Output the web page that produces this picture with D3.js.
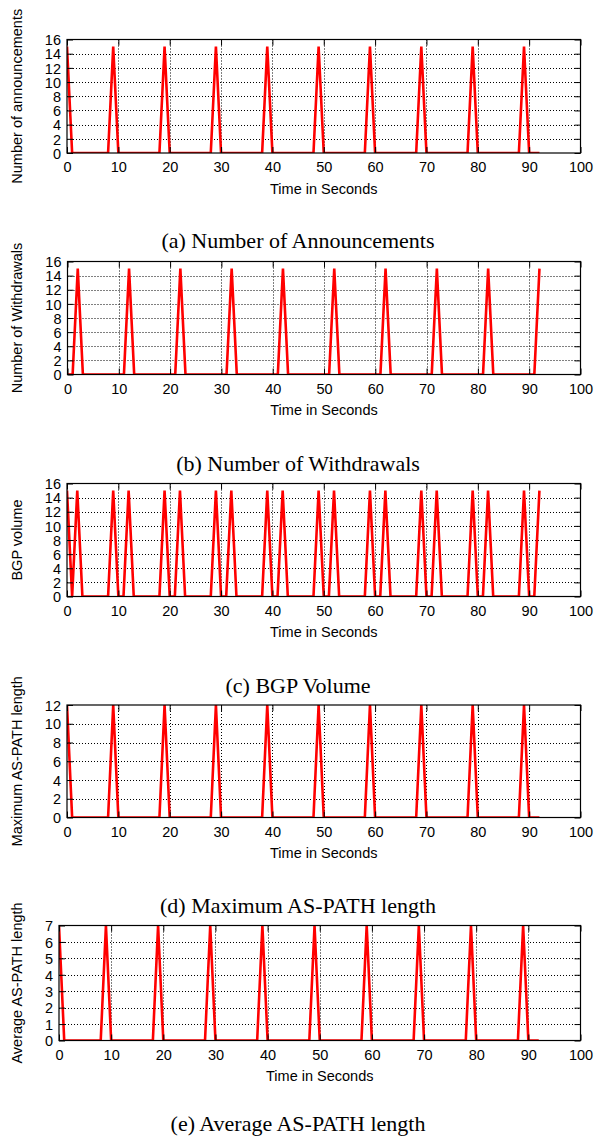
<!DOCTYPE html>
<html><head><meta charset="utf-8">
<script src="https://cdn.jsdelivr.net/npm/d3@7"></script>
<style>body{margin:0;background:#fff} svg{display:block}</style>
</head><body>
<svg id="c" width="595" height="1140"></svg>
<script>
// ---------- data ----------
const time = [0,1,2,3,4,5,6,7,8,9,10,11,12,13,14,15,16,17,18,19,20,21,22,23,24,25,26,27,28,29,30,31,32,33,34,35,36,37,38,39,40,41,42,43,44,45,46,47,48,49,50,51,52,53,54,55,56,57,58,59,60,61,62,63,64,65,66,67,68,69,70,71,72,73,74,75,76,77,78,79,80,81,82,83,84,85,86,87,88,89,90,91,92];

const announcements = [
15,0,0,0,0,0,0,0,0,15,
0,0,0,0,0,0,0,0,0,15,
0,0,0,0,0,0,0,0,0,15,
0,0,0,0,0,0,0,0,0,15,
0,0,0,0,0,0,0,0,0,15,
0,0,0,0,0,0,0,0,0,15,
0,0,0,0,0,0,0,0,0,15,
0,0,0,0,0,0,0,0,0,15,
0,0,0,0,0,0,0,0,0,15,
0,0,0];

const withdrawals = [
0,0,15,0,0,0,0,0,0,0,
0,0,15,0,0,0,0,0,0,0,
0,0,15,0,0,0,0,0,0,0,
0,0,15,0,0,0,0,0,0,0,
0,0,15,0,0,0,0,0,0,0,
0,0,15,0,0,0,0,0,0,0,
0,0,15,0,0,0,0,0,0,0,
0,0,15,0,0,0,0,0,0,0,
0,0,15,0,0,0,0,0,0,0,
0,0,15];

const bgpVolume = [
15,0,15,0,0,0,0,0,0,15,
0,0,15,0,0,0,0,0,0,15,
0,0,15,0,0,0,0,0,0,15,
0,0,15,0,0,0,0,0,0,15,
0,0,15,0,0,0,0,0,0,15,
0,0,15,0,0,0,0,0,0,15,
0,0,15,0,0,0,0,0,0,15,
0,0,15,0,0,0,0,0,0,15,
0,0,15,0,0,0,0,0,0,15,
0,0,15];

const maxPathLength = [
12,0,0,0,0,0,0,0,0,12,
0,0,0,0,0,0,0,0,0,12,
0,0,0,0,0,0,0,0,0,12,
0,0,0,0,0,0,0,0,0,12,
0,0,0,0,0,0,0,0,0,12,
0,0,0,0,0,0,0,0,0,12,
0,0,0,0,0,0,0,0,0,12,
0,0,0,0,0,0,0,0,0,12,
0,0,0,0,0,0,0,0,0,12,
0,0,0];

const avgPathLength = [
7,0,0,0,0,0,0,0,0,7,
0,0,0,0,0,0,0,0,0,7,
0,0,0,0,0,0,0,0,0,7,
0,0,0,0,0,0,0,0,0,7,
0,0,0,0,0,0,0,0,0,7,
0,0,0,0,0,0,0,0,0,7,
0,0,0,0,0,0,0,0,0,7,
0,0,0,0,0,0,0,0,0,7,
0,0,0,0,0,0,0,0,0,7,
0,0,0];

const xTicks = [0,10,20,30,40,50,60,70,80,90,100];
const yTicks16 = [0,2,4,6,8,10,12,14,16];
const yTicks12 = [0,2,4,6,8,10,12];
const yTicks7 = [0,1,2,3,4,5,6,7];

const xTitle = "Time in Seconds";
const yTitles = ["Number of announcements","Number of Withdrawals","BGP volume","Maximum AS-PATH length","Average AS-PATH length"];
const captions = ["(a) Number of Announcements","(b) Number of Withdrawals","(c) BGP Volume","(d) Maximum AS-PATH length","(e) Average AS-PATH length"];

// ---------- layout ----------
const panels = [
  {values: announcements, yTicks: yTicks16, top: 39.5,  bottom: 153,   left: 67,   capOff: 95},
  {values: withdrawals,   yTicks: yTicks16, top: 261.5, bottom: 374.5, left: 67.5, capOff: 96},
  {values: bgpVolume,     yTicks: yTicks16, top: 483.5, bottom: 596.5, left: 67,   capOff: 96},
  {values: maxPathLength, yTicks: yTicks12, top: 705,   bottom: 817.5, left: 67,   capOff: 95},
  {values: avgPathLength, yTicks: yTicks7,  top: 925.5, bottom: 1040.5,left: 59,   capOff: 90.5}
];
const right = 580.5;
const sans = "'Liberation Sans', Arial, Helvetica, sans-serif";
const serif = "'Liberation Serif', 'Times New Roman', serif";
const tickLen = 6;

const svg = d3.select("#c");

panels.forEach((p, i) => {
  const x = d3.scaleLinear().domain([0, 100]).range([p.left, right]);
  const yMax = p.yTicks[p.yTicks.length - 1];
  const y = d3.scaleLinear().domain([0, yMax]).range([p.bottom, p.top]);
  const g = svg.append("g");

  // grid (dotted)
  g.append("g").selectAll("line").data(xTicks.slice(1, -1)).join("line")
    .attr("x1", d => Math.round(x(d)) + 0.5).attr("x2", d => Math.round(x(d)) + 0.5)
    .attr("y1", p.top).attr("y2", p.bottom)
    .attr("stroke", "#000").attr("stroke-width", 1).attr("stroke-dasharray", "1,2");
  g.append("g").selectAll("line").data(p.yTicks.slice(1, -1)).join("line")
    .attr("x1", p.left).attr("x2", right)
    .attr("y1", d => Math.round(y(d)) + 0.5).attr("y2", d => Math.round(y(d)) + 0.5)
    .attr("stroke", "#000").attr("stroke-width", 1).attr("stroke-dasharray", "1,2");

  // clip
  const cid = "clip" + i;
  svg.append("clipPath").attr("id", cid).append("rect")
    .attr("x", p.left).attr("y", p.top).attr("width", right - p.left).attr("height", p.bottom - p.top);

  // data line
  const line = d3.line().x((d, j) => x(time[j])).y(d => y(d));
  g.append("path").datum(p.values)
    .attr("clip-path", `url(#${cid})`)
    .attr("d", line)
    .attr("fill", "none").attr("stroke", "#ff0000").attr("stroke-width", 2.6)
    .attr("stroke-linejoin", "miter");

  // axes with inward ticks
  const fmt = d3.format("d");
  const axL = d3.axisLeft(y).tickValues(p.yTicks).tickFormat(fmt).tickSizeInner(-tickLen).tickSizeOuter(0).tickPadding(6);
  const axR = d3.axisRight(y).tickValues(p.yTicks).tickSizeInner(-tickLen).tickSizeOuter(0).tickFormat("");
  const axB = d3.axisBottom(x).tickValues(xTicks).tickFormat(fmt).tickSizeInner(-tickLen).tickSizeOuter(0).tickPadding(8);
  const axT = d3.axisTop(x).tickValues(xTicks).tickSizeInner(-tickLen).tickSizeOuter(0).tickFormat("");

  const gl = g.append("g").attr("transform", `translate(${p.left},0)`).call(axL);
  const gr = g.append("g").attr("transform", `translate(${right},0)`).call(axR);
  const gb = g.append("g").attr("transform", `translate(0,${p.bottom})`).call(axB);
  const gt = g.append("g").attr("transform", `translate(0,${p.top})`).call(axT);
  [gl, gr, gb, gt].forEach(a => {
    a.select(".domain").remove();
    a.selectAll("line").attr("stroke", "#000").attr("stroke-width", 1);
    a.selectAll("text").attr("fill", "#000").style("font-family", sans).style("font-size", "14.5px");
  });
  gl.selectAll("text").attr("dy", "0.36em");
  gb.selectAll("text").attr("dy", "0.76em");

  // border
  g.append("rect")
    .attr("x", p.left).attr("y", p.top)
    .attr("width", right - p.left).attr("height", p.bottom - p.top)
    .attr("fill", "none").attr("stroke", "#000").attr("stroke-width", 1.2);

  // titles
  g.append("text")
    .attr("transform", `translate(22,${(p.top + p.bottom) / 2}) rotate(-90)`)
    .attr("text-anchor", "middle")
    .style("font-family", sans).style("font-size", "14.5px")
    .text(yTitles[i]);
  g.append("text")
    .attr("x", (p.left + right) / 2).attr("y", p.bottom + 40.5)
    .attr("text-anchor", "middle")
    .style("font-family", sans).style("font-size", "14.5px")
    .text(xTitle);
  g.append("text")
    .attr("x", 298).attr("y", p.bottom + p.capOff)
    .attr("text-anchor", "middle")
    .style("font-family", serif).style("font-size", "22px")
    .text(captions[i]);
});
</script>
</body></html>
